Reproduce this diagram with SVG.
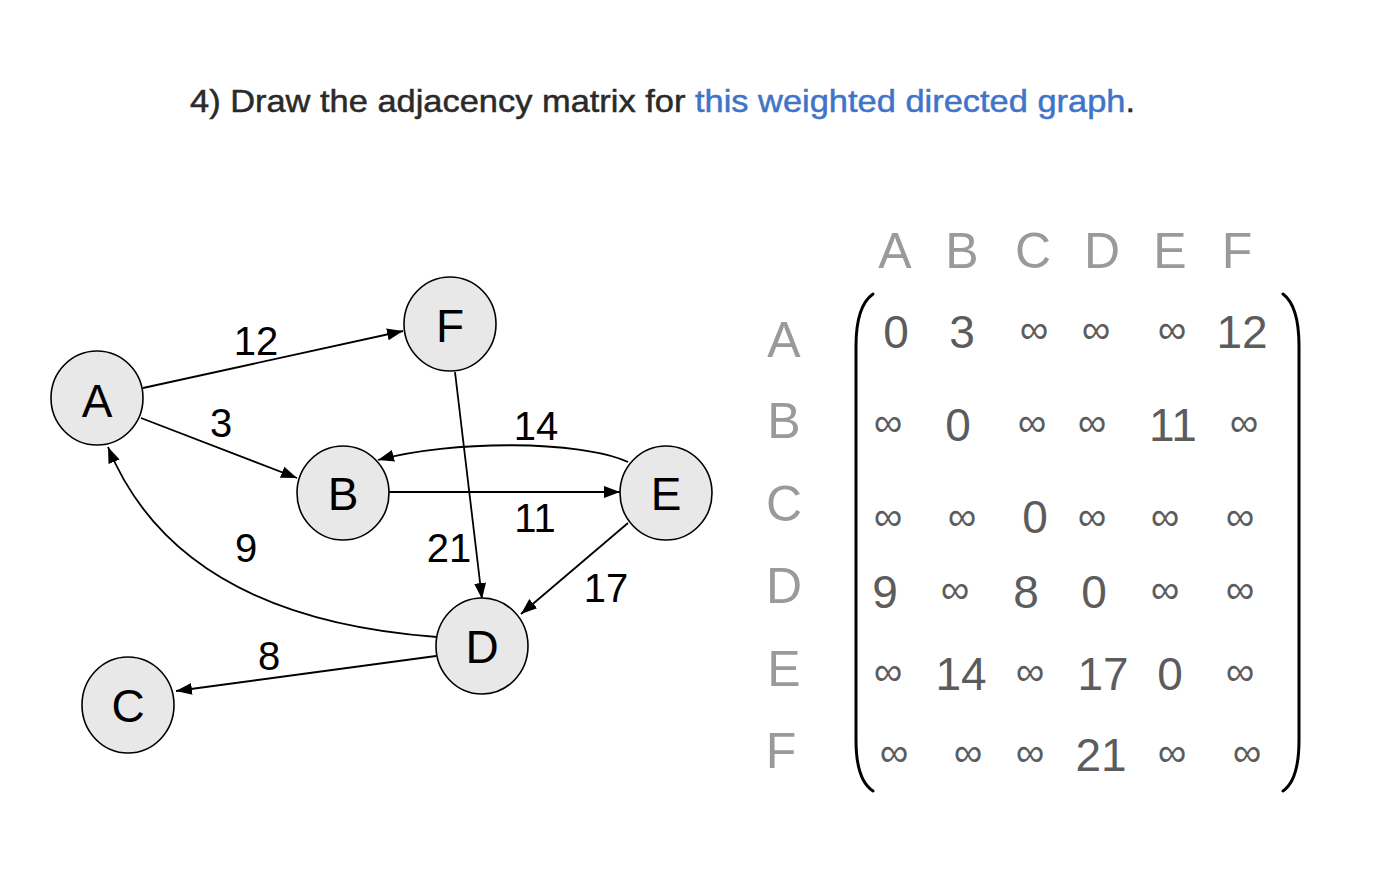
<svg xmlns="http://www.w3.org/2000/svg" width="1384" height="879" viewBox="0 0 1384 879">
<defs>
<marker id="arr" markerUnits="userSpaceOnUse" markerWidth="18" markerHeight="14" refX="16" refY="6" orient="auto">
<path d="M0,0 L16,6 L0,12 z" fill="#000"/>
</marker>
<style>
.node ellipse{fill:#e8e8e8;stroke:#000;stroke-width:1.6}
.node text{font-family:"Liberation Sans",Arial,sans-serif;font-size:46px;fill:#000;text-anchor:middle}
.edge{fill:none;stroke:#000;stroke-width:1.8;marker-end:url(#arr)}
.elab{font-family:"Liberation Sans",Arial,sans-serif;font-size:40px;fill:#000;text-anchor:middle}
.hdr{font-family:"Liberation Sans",Arial,sans-serif;font-size:50px;fill:#9a9a9a;text-anchor:middle}
.cell{font-family:"Liberation Sans",Arial,sans-serif;font-size:46px;fill:#5c5c5c;text-anchor:middle}
.inf{font-family:"Liberation Sans",Arial,sans-serif;font-size:40px;fill:#5c5c5c;text-anchor:middle}
.br{fill:none;stroke:#000;stroke-width:3;stroke-linecap:round}
</style>
</defs>
<rect width="1384" height="879" fill="#fff"/>
<text x="190" y="112" font-family="'Liberation Sans',Arial,sans-serif" font-size="32" fill="#2a2a2a" stroke="#2a2a2a" stroke-width="0.5" textLength="945" lengthAdjust="spacingAndGlyphs">4) Draw the adjacency matrix for <tspan fill="#3f74c8" stroke="#3f74c8">this weighted directed graph</tspan>.</text>

<g id="connectors">
<path class="edge" d="M143 388 L403 331"/>
<path class="edge" d="M141 418 L297 478"/>
<path class="edge" d="M628 462 C580 440 450 440 378 460"/>
<path class="edge" d="M389 492 L620 492"/>
<path class="edge" d="M455 372 L482 599"/>
<path class="edge" d="M628 523 L521 614"/>
<path class="edge" d="M437 637 Q178 618 108 447"/>
<path class="edge" d="M436 656 L176 691"/>
<text class="elab" x="256" y="355">12</text>
<text class="elab" x="221" y="437">3</text>
<text class="elab" x="536" y="440">14</text>
<text class="elab" x="535" y="532">11</text>
<text class="elab" x="449" y="562">21</text>
<text class="elab" x="246" y="562">9</text>
<text class="elab" x="606" y="602">17</text>
<text class="elab" x="269" y="670">8</text>
</g>

<g id="node-A" class="node"><ellipse cx="97" cy="398" rx="46" ry="47"/><text x="97" y="417">A</text></g>
<g id="node-F" class="node"><ellipse cx="450" cy="324" rx="46" ry="47"/><text x="450" y="342">F</text></g>
<g id="node-B" class="node"><ellipse cx="343" cy="493" rx="46" ry="47"/><text x="343" y="510">B</text></g>
<g id="node-E" class="node"><ellipse cx="666" cy="493" rx="46" ry="47"/><text x="666" y="510">E</text></g>
<g id="node-D" class="node"><ellipse cx="482" cy="646" rx="46" ry="48"/><text x="482" y="663">D</text></g>
<g id="node-C" class="node"><ellipse cx="128" cy="705" rx="46" ry="48"/><text x="128" y="722">C</text></g>

<g id="matrix">
<text class="hdr" x="895" y="268">A</text>
<text class="hdr" x="962" y="268">B</text>
<text class="hdr" x="1033" y="268">C</text>
<text class="hdr" x="1102" y="268">D</text>
<text class="hdr" x="1170" y="268">E</text>
<text class="hdr" x="1237" y="268">F</text>

<text class="hdr" x="784" y="357">A</text>
<text class="hdr" x="784" y="438">B</text>
<text class="hdr" x="784" y="521">C</text>
<text class="hdr" x="784" y="603">D</text>
<text class="hdr" x="784" y="686">E</text>
<text class="hdr" x="781" y="768">F</text>

<path class="br" d="M873 294 Q856 306 856 346 L856 740 Q856 780 873 791"/>
<path class="br" d="M1283 294 Q1299 306 1299 346 L1299 740 Q1299 780 1283 791"/>

<text class="cell" x="896" y="348">0</text>
<text class="cell" x="962" y="348">3</text>
<text class="inf" x="1034" y="343">∞</text>
<text class="inf" x="1096" y="343">∞</text>
<text class="inf" x="1172" y="343">∞</text>
<text class="cell" x="1242" y="348">12</text>

<text class="inf" x="888" y="436">∞</text>
<text class="cell" x="958" y="441">0</text>
<text class="inf" x="1032" y="436">∞</text>
<text class="inf" x="1092" y="436">∞</text>
<text class="cell" x="1173" y="441">11</text>
<text class="inf" x="1244" y="436">∞</text>

<text class="inf" x="888" y="530">∞</text>
<text class="inf" x="962" y="530">∞</text>
<text class="cell" x="1035" y="533">0</text>
<text class="inf" x="1092" y="530">∞</text>
<text class="inf" x="1165" y="530">∞</text>
<text class="inf" x="1240" y="530">∞</text>

<text class="cell" x="885" y="608">9</text>
<text class="inf" x="955" y="603">∞</text>
<text class="cell" x="1026" y="608">8</text>
<text class="cell" x="1094" y="608">0</text>
<text class="inf" x="1165" y="603">∞</text>
<text class="inf" x="1240" y="603">∞</text>

<text class="inf" x="888" y="685">∞</text>
<text class="cell" x="961" y="690">14</text>
<text class="inf" x="1030" y="685">∞</text>
<text class="cell" x="1103" y="690">17</text>
<text class="cell" x="1170" y="690">0</text>
<text class="inf" x="1240" y="685">∞</text>

<text class="inf" x="894" y="766">∞</text>
<text class="inf" x="968" y="766">∞</text>
<text class="inf" x="1030" y="766">∞</text>
<text class="cell" x="1101" y="771">21</text>
<text class="inf" x="1172" y="766">∞</text>
<text class="inf" x="1247" y="766">∞</text>
</g>
</svg>
